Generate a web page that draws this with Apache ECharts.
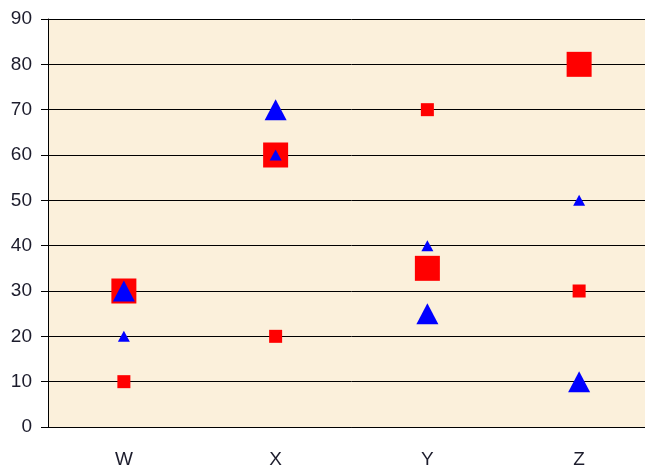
<!DOCTYPE html>
<html><head><meta charset="utf-8">
<script src="https://cdn.jsdelivr.net/npm/echarts@6/dist/echarts.min.js"></script>
<style>html,body{margin:0;padding:0;background:#fff;overflow:hidden;width:645px;height:474px}#c{width:655px;height:474px}</style>
</head><body><div id="c"></div>
<script>
var categories = ['W', 'X', 'Y', 'Z'];
var redSmall = [10, 20, 70, 30];
var redBig = [30, 60, 35, 80];
var blueSmall = [20, 60, 40, 50];
var blueBig = [30, 70, 25, 10];
var yTicks = [0, 10, 20, 30, 40, 50, 60, 70, 80, 90];

var chart = echarts.init(document.getElementById('c'), null, {renderer: 'canvas'});
var font = 'Liberation Sans, Arial, sans-serif';
chart.setOption({
  animation: false,
  backgroundColor: '#ffffff',
  grid: {left: 48, top: 19, right: 0, bottom: 47, show: true, backgroundColor: '#FBF0DB', borderWidth: 0},
  xAxis: {
    type: 'category', data: categories, boundaryGap: true,
    axisLine: {show: true, lineStyle: {color: '#000', width: 1}},
    axisTick: {show: false},
    axisLabel: {fontSize: 19, color: '#1c1c2c', fontFamily: font, margin: 23},
    splitLine: {show: false}
  },
  yAxis: {
    type: 'value', min: yTicks[0], max: yTicks[yTicks.length - 1], interval: 10,
    axisLine: {show: true, lineStyle: {color: '#000', width: 1}},
    axisTick: {show: true, length: 7, lineStyle: {color: '#000'}},
    axisLabel: {fontSize: 19, color: '#1c1c2c', fontFamily: font, margin: 16},
    splitLine: {show: true, lineStyle: {color: '#000', width: 1}}
  },
  series: [
    {type: 'scatter', data: redSmall, symbol: 'rect', symbolSize: 13, itemStyle: {color: '#FF0000', opacity: 1}, z: 2},
    {type: 'scatter', data: redBig, symbol: 'rect', symbolSize: 25, itemStyle: {color: '#FF0000', opacity: 1}, z: 2},
    {type: 'scatter', data: blueSmall, symbol: 'triangle', symbolSize: [12, 11], itemStyle: {color: '#0000FF', opacity: 1}, z: 3},
    {type: 'scatter', data: blueBig, symbol: 'triangle', symbolSize: [22, 21], itemStyle: {color: '#0000FF', opacity: 1}, z: 3}
  ]
});
</script></body></html>
